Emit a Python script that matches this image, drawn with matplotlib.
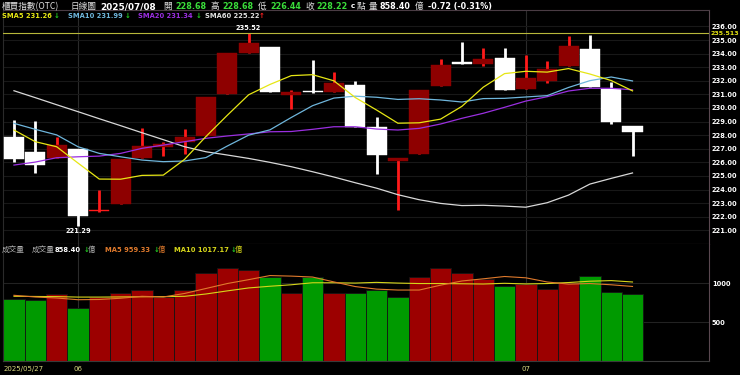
import matplotlib
matplotlib.use('Agg')
import matplotlib.pyplot as plt
import numpy as np

# ---- data ----
dates = ['2025/05/27', '2025/05/28', '2025/05/29',
         '2025/06/02', '2025/06/03', '2025/06/04', '2025/06/05', '2025/06/06',
         '2025/06/09', '2025/06/10', '2025/06/11', '2025/06/12', '2025/06/13',
         '2025/06/16', '2025/06/17', '2025/06/18', '2025/06/19', '2025/06/20',
         '2025/06/23', '2025/06/24', '2025/06/25', '2025/06/26', '2025/06/27',
         '2025/06/30', '2025/07/01', '2025/07/02', '2025/07/03', '2025/07/04',
         '2025/07/07', '2025/07/08']
open_ = [227.84, 226.76, 226.34, 226.96, 222.40, 222.95, 226.30, 227.10, 227.52, 227.94,
         231.00, 234.02, 234.46, 230.97, 231.22, 231.20, 231.69, 228.58, 226.12, 226.61,
         231.64, 233.30, 233.26, 233.65, 231.37, 232.00, 233.11, 234.34, 231.39, 228.68]
high = [229.11, 229.06, 227.88, 227.00, 223.96, 226.24, 228.50, 227.52, 228.47, 230.83,
        234.07, 235.52, 234.46, 231.32, 233.53, 232.65, 231.98, 229.36, 226.32, 231.32,
        233.60, 234.83, 234.41, 234.41, 233.90, 233.45, 235.32, 235.37, 231.93, 228.68]
low = [226.05, 225.19, 226.30, 221.29, 222.38, 222.95, 226.30, 226.46, 226.61, 227.94,
       231.00, 234.02, 231.15, 229.94, 231.12, 231.20, 228.58, 225.14, 222.49, 226.61,
       231.64, 233.22, 233.09, 231.32, 231.37, 231.81, 233.11, 231.56, 228.80, 226.44]
close = [226.27, 225.82, 227.25, 222.05, 222.45, 226.24, 227.20, 227.35, 227.88, 230.83,
         234.02, 234.76, 231.15, 231.17, 231.15, 231.81, 228.58, 226.54, 226.32, 231.32,
         233.16, 233.25, 233.60, 231.32, 232.18, 232.84, 234.58, 231.56, 228.94, 228.22]
sma5 = [228.38, 227.52, 227.15, 225.95, 224.77, 224.76, 225.04, 225.06, 226.22, 227.90,
        229.46, 230.97, 231.73, 232.38, 232.45, 232.00, 230.77, 229.85, 228.88, 228.91,
        229.18, 230.12, 231.53, 232.53, 232.70, 232.64, 232.90, 232.50, 232.02, 231.26]
sma10 = [228.87, 228.43, 228.02, 227.15, 226.66, 226.41, 226.17, 226.05, 226.10, 226.35,
         227.20, 228.00, 228.39, 229.30, 230.17, 230.73, 230.87, 230.79, 230.63, 230.68,
         230.59, 230.44, 230.69, 230.71, 230.81, 230.91, 231.51, 232.01, 232.28, 231.99]
sma20 = [225.80, 226.02, 226.34, 226.41, 226.46, 226.66, 227.03, 227.27, 227.52, 227.77,
         227.94, 228.09, 228.25, 228.27, 228.43, 228.62, 228.62, 228.45, 228.38, 228.50,
         228.82, 229.24, 229.61, 230.05, 230.51, 230.83, 231.25, 231.45, 231.45, 231.34]
sma60 = [231.27, 230.76, 230.24, 229.73, 229.21, 228.70, 228.18, 227.67, 227.15, 226.78,
         226.54, 226.29, 226.00, 225.68, 225.31, 224.92, 224.50, 224.10, 223.62, 223.25,
         222.98, 222.82, 222.84, 222.78, 222.70, 223.03, 223.59, 224.40, 224.82, 225.22]
volume = [797, 788, 866, 685, 819, 875, 917, 819, 917, 1137,
          1194, 1168, 1085, 879, 1077, 879, 871, 917, 819, 1077,
          1198, 1137, 1059, 969, 991, 930, 1000, 1094, 891, 858.40]
vma5 = [845, 823, 810, 788, 791, 807, 832, 823, 869, 933,
        997, 1047, 1100, 1093, 1081, 1018, 958, 925, 913, 913,
        976, 1030, 1058, 1088, 1071, 1017, 990, 997, 981, 959.33]
vma10 = [832, 830, 828, 822, 822, 824, 826, 828, 832, 862,
         902, 940, 962, 981, 1007, 1007, 1003, 1012, 1003, 997,
         997, 994, 991, 1000, 992, 997, 1010, 1027, 1035, 1017.17]
ref_line = 235.513
price_ticks = list(range(221, 237))
vol_ticks = [500, 1000]

W, H = 740, 375
CJK = ['Noto Sans CJK TC', 'DejaVu Sans']
GREEN_TXT = '#3add3a'


def fx(px):
    return px / W


def fy(py):
    return 1 - py / H


def put(x, y, s, color='white', size=5, weight='bold', family='DejaVu Sans'):
    fig.text(fx(x), fy(y), s, color=color, fontsize=size, fontweight=weight,
             family=family, ha='left', va='center')


fig = plt.figure(figsize=(7.4, 3.75), dpi=100, facecolor='black')
ax1 = fig.add_axes([fx(3.3), fy(244.3), (709.3 - 3.3) / W, (244.3 - 10) / H])
ax2 = fig.add_axes([fx(3.3), fy(360.7), (709.3 - 3.3) / W, (360.7 - 244.3) / H])

n = len(close)
x = np.arange(n)
o = np.array(open_)
c = np.array(close)

# month start positions
month_starts = [i for i in range(1, n) if dates[i][5:7] != dates[i - 1][5:7]]

for ax in (ax1, ax2):
    ax.set_facecolor('black')
    ax.set_xlim(-0.5, 32.6)
    ax.set_xticks([])
    for m in month_starts:
        ax.axvline(m, color='#2a2a2a', lw=0.8, zorder=1)
    ax.spines['left'].set_color('#2a2a2a')
    ax.spines['right'].set_color('#5a4850')
    ax.yaxis.tick_right()
    ax.tick_params(axis='y', length=0, pad=1.8, labelsize=4.8, labelcolor='white')

# ---- price panel ----
ax1.set_ylim(219.97, 237.21)
ax1.set_yticks(price_ticks)
ax1.set_yticklabels([f'{v:.2f}' for v in price_ticks])
for t in ax1.get_yticklabels():
    t.set_fontweight('bold')
ax1.grid(axis='y', color='#181818', lw=0.8, zorder=0)
ax1.spines['top'].set_color('#4a3c44')
ax1.spines['bottom'].set_color('#5e4a55')

up = c >= o
tiny = np.abs(c - o) < 0.1
wick_col = ['#ff1a1a' if u else 'white' for u in up]
body_col = [('#ff1a1a' if t else '#8e0000') if u else 'white' for u, t in zip(up, tiny)]
ax1.vlines(x, low, high, colors=wick_col, lw=2.0, zorder=2)
ax1.bar(x, np.maximum(np.abs(c - o), 0.12), bottom=np.minimum(o, c), width=0.94,
        color=body_col, edgecolor=body_col, linewidth=0.3, zorder=3)

ax1.plot(x, sma60, color='#d8d8d8', lw=0.9, zorder=4)
ax1.plot(x, sma20, color='#9a2fe0', lw=0.9, zorder=4)
ax1.plot(x, sma10, color='#6fb6dc', lw=0.9, zorder=4)
ax1.plot(x, sma5, color='#e6e614', lw=0.9, zorder=4)

ax1.axhline(ref_line, color='#b8b83a', lw=0.8, zorder=4)
ax1.text(1.002, ref_line, f'{ref_line:.3f}', transform=ax1.get_yaxis_transform(),
         color='#e6e614', fontsize=4.5, fontweight='bold', ha='left', va='center')

ih = int(np.argmax(high))
il = int(np.argmin(low))
ax1.annotate(f'{high[ih]:.2f}', (ih, high[ih]), xytext=(0, 1.5), textcoords='offset points',
             ha='center', va='bottom', color='white', fontsize=4.8, fontweight='bold')
ax1.annotate(f'{low[il]:.2f}', (il, low[il]), xytext=(0, -1.5), textcoords='offset points',
             ha='center', va='top', color='white', fontsize=4.8, fontweight='bold')

# ---- volume panel ----
ax2.set_ylim(0, 1504)
ax2.set_yticks(vol_ticks)
ax2.set_yticklabels([str(v) for v in vol_ticks])
for t in ax2.get_yticklabels():
    t.set_fontweight('bold')
ax2.grid(axis='y', color='#222222', lw=0.8, zorder=0)
ax2.spines['top'].set_visible(False)
ax2.spines['bottom'].set_color('#3a3a3a')
prev = np.concatenate([[np.inf], c[:-1]])
vol_col = ['#9c0000' if c[i] > prev[i] else '#009a00' for i in range(n)]
ax2.bar(x, volume, width=1.0, color=vol_col, edgecolor='#151515', linewidth=0.6, zorder=2)
ax2.plot(x, vma10, color='#d6d61a', lw=0.8, zorder=3)
ax2.plot(x, vma5, color='#e07a2c', lw=0.8, zorder=3)

# date labels under volume panel
date_col = '#d8d880'
fig.text(fx(3.3), fy(369), dates[0], color=date_col, fontsize=5.0, ha='left', va='center')
for m in month_starts:
    xpix = ax2.transData.transform((m, 0))[0]
    fig.text(xpix / W, fy(369), dates[m][5:7], color=date_col, fontsize=5.0,
             ha='center', va='center')

# ---- header texts ----
chg = close[-1] - close[-2]
pct = chg / close[-2] * 100
put(2, 6.5, '櫃買指數(OTC)', '#e0e0e0', 6.2, 'normal', CJK)
put(70, 6.5, '日線圖', '#e0e0e0', 6.2, 'normal', CJK)
put(100, 6.5, dates[-1], 'white', 6.4)
put(163, 6.5, '開', '#e0e0e0', 6.2, 'normal', CJK)
put(175, 6.5, f'{open_[-1]:.2f}', GREEN_TXT, 5.8)
put(211, 6.5, '高', '#e0e0e0', 6.2, 'normal', CJK)
put(222, 6.5, f'{high[-1]:.2f}', GREEN_TXT, 5.8)
put(258, 6.5, '低', '#e0e0e0', 6.2, 'normal', CJK)
put(270, 6.5, f'{low[-1]:.2f}', GREEN_TXT, 5.8)
put(305, 6.5, '收', '#e0e0e0', 6.2, 'normal', CJK)
put(316, 6.5, f'{close[-1]:.2f}', GREEN_TXT, 5.8)
put(350.5, 6.5, 'c', 'white', 5.2)
put(357, 6.5, '點', '#e0e0e0', 6.2, 'normal', CJK)
put(369, 6.5, '量', '#e0e0e0', 6.2, 'normal', CJK)
put(380, 6.5, f'{volume[-1]:.2f}', 'white', 5.8)
put(415, 6.5, '億', '#e0e0e0', 6.2, 'normal', CJK)
put(428, 6.5, f'{chg:.2f} ({pct:.2f}%)', 'white', 5.8)


def arrow(series):
    return ('↓', '#22cc22') if series[-1] < series[-2] else ('↑', '#ff2020')


for xt, xa, name, ser, col in [(2, 54, 'SMA5', sma5, '#e6e614'),
                               (68, 124.5, 'SMA10', sma10, '#6fb6dc'),
                               (138, 195.5, 'SMA20', sma20, '#9a2fe0'),
                               (205, 259, 'SMA60', sma60, '#e0e0e0')]:
    put(xt, 16, f'{name} {ser[-1]:.2f}', col, 4.9)
    a, ac = arrow(ser)
    put(xa, 16, a, ac, 5.0)

put(2, 249.5, '成交量', '#b0b0b0', 5.5, 'normal', CJK)
put(32, 249.5, '成交量', '#b0b0b0', 5.5, 'normal', CJK)
for xt, xa, xu, label, ser, col in [(55, 83.5, 88, '', volume, 'white'),
                                    (105, 153.5, 158, 'MA5 ', vma5, '#e07a2c'),
                                    (174, 230.5, 235, 'MA10 ', vma10, '#d6d61a')]:
    put(xt, 249.5, f'{label}{ser[-1]:.2f}', col, 4.9)
    a, ac = arrow(ser)
    put(xa, 249.5, a, ac, 4.9)
    put(xu, 249.5, '億', '#b0b0b0' if col == 'white' else col, 5.3, 'normal', CJK)

fig.savefig('out.png', dpi=100, facecolor='black')
